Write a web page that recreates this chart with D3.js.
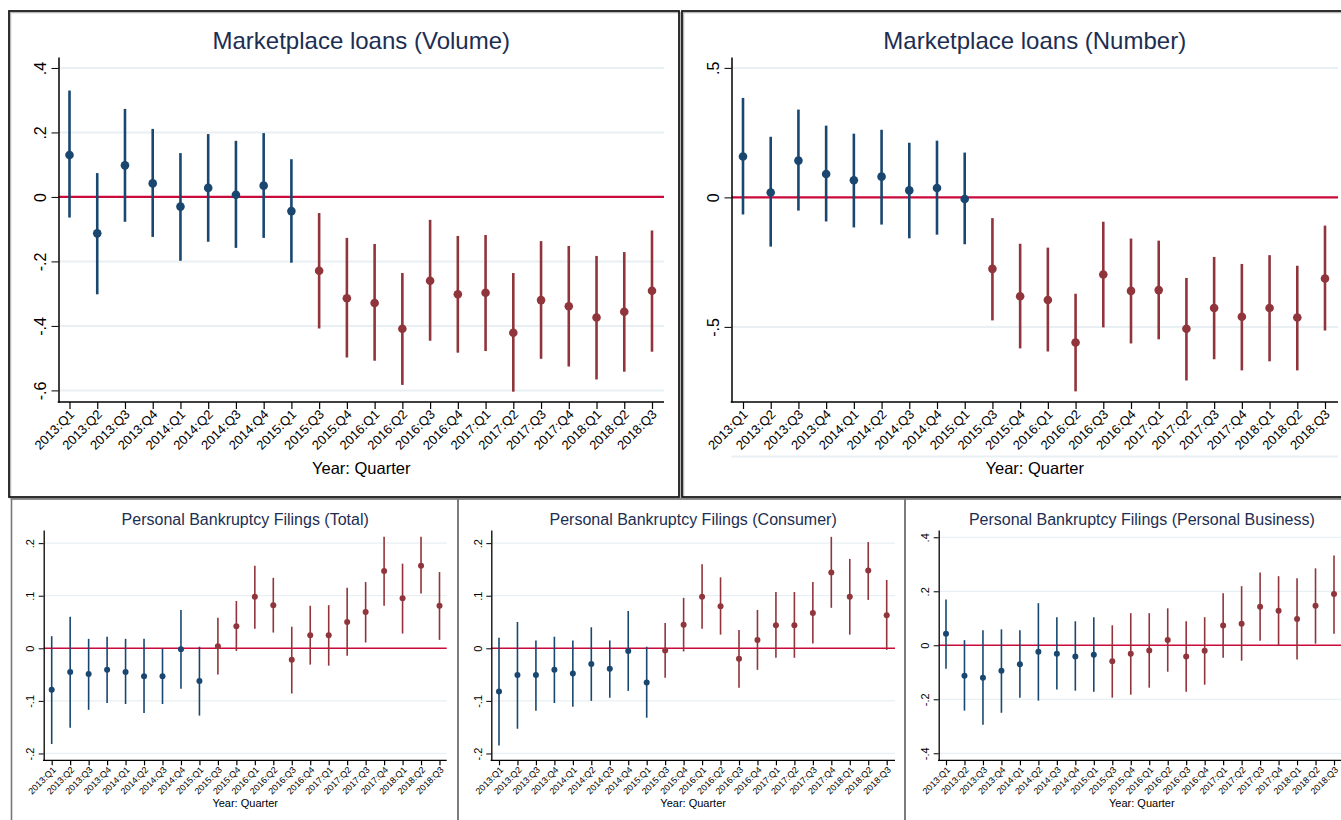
<!DOCTYPE html>
<html>
<head>
<meta charset="utf-8">
<script src="https://cdn.jsdelivr.net/npm/d3@7"></script>
<style>
  body { margin: 0; background: #fff; }
  svg { display: block; font-family: "Liberation Sans", Arial, sans-serif; }
</style>
</head>
<body>
<div id="chart"></div>
<script>
// Quarters (2015:Q2 is the omitted base period)
const quarters = ['2013:Q1', '2013:Q2', '2013:Q3', '2013:Q4', '2014:Q1', '2014:Q2', '2014:Q3', '2014:Q4',
  '2015:Q1', '2015:Q3', '2015:Q4', '2016:Q1', '2016:Q2', '2016:Q3', '2016:Q4',
  '2017:Q1', '2017:Q2', '2017:Q3', '2017:Q4', '2018:Q1', '2018:Q2', '2018:Q3'];
const firstPost = '2015:Q3';

// Marketplace loans (Volume)
const volEst = [0.130, -0.113, 0.098, 0.042, -0.030, 0.028, 0.007, 0.035, -0.044, -0.229, -0.314, -0.329, -0.409, -0.260, -0.302, -0.297, -0.421, -0.320, -0.339, -0.374, -0.356, -0.291];
const volLo = [-0.064, -0.302, -0.077, -0.124, -0.198, -0.139, -0.158, -0.127, -0.204, -0.408, -0.498, -0.508, -0.583, -0.446, -0.483, -0.478, -0.604, -0.502, -0.526, -0.566, -0.542, -0.480];
const volHi = [0.330, 0.074, 0.273, 0.211, 0.136, 0.195, 0.174, 0.198, 0.117, -0.050, -0.127, -0.146, -0.236, -0.071, -0.121, -0.118, -0.236, -0.137, -0.152, -0.183, -0.171, -0.104];
const volTicks = [-0.6, -0.4, -0.2, 0, 0.2, 0.4];

// Marketplace loans (Number)
const numEst = [0.158, 0.019, 0.142, 0.090, 0.066, 0.080, 0.027, 0.036, -0.006, -0.276, -0.382, -0.396, -0.560, -0.298, -0.361, -0.358, -0.507, -0.427, -0.461, -0.427, -0.464, -0.313];
const numLo = [-0.066, -0.190, -0.051, -0.093, -0.116, -0.105, -0.158, -0.144, -0.181, -0.475, -0.583, -0.595, -0.749, -0.502, -0.564, -0.548, -0.707, -0.625, -0.668, -0.633, -0.668, -0.514];
const numHi = [0.384, 0.234, 0.339, 0.277, 0.246, 0.261, 0.211, 0.219, 0.173, -0.080, -0.179, -0.194, -0.372, -0.094, -0.159, -0.167, -0.311, -0.230, -0.257, -0.223, -0.264, -0.109];
const numTicks = [-0.5, 0, 0.5];

// Personal Bankruptcy Filings (Total)
const totEst = [-0.079, -0.045, -0.049, -0.041, -0.045, -0.053, -0.053, -0.002, -0.062, 0.004, 0.042, 0.098, 0.082, -0.022, 0.025, 0.025, 0.050, 0.069, 0.147, 0.095, 0.157, 0.081];
const totLo = [-0.182, -0.151, -0.117, -0.104, -0.106, -0.123, -0.106, -0.077, -0.128, -0.050, -0.005, 0.037, 0.030, -0.086, -0.031, -0.033, -0.014, 0.011, 0.081, 0.028, 0.104, 0.016];
const totHi = [0.023, 0.060, 0.018, 0.022, 0.018, 0.018, -0.001, 0.073, 0.003, 0.058, 0.090, 0.157, 0.134, 0.041, 0.081, 0.082, 0.115, 0.126, 0.212, 0.161, 0.212, 0.145];
const totTicks = [-0.2, -0.1, 0, 0.1, 0.2];

// Personal Bankruptcy Filings (Consumer)
const conEst = [-0.082, -0.051, -0.051, -0.041, -0.048, -0.030, -0.039, -0.005, -0.065, -0.004, 0.045, 0.098, 0.080, -0.020, 0.016, 0.044, 0.044, 0.067, 0.144, 0.098, 0.148, 0.063];
const conLo = [-0.185, -0.153, -0.119, -0.104, -0.111, -0.100, -0.094, -0.081, -0.132, -0.056, -0.006, 0.037, 0.026, -0.075, -0.041, -0.018, -0.018, 0.009, 0.077, 0.026, 0.092, -0.003];
const conHi = [0.020, 0.050, 0.015, 0.022, 0.015, 0.040, 0.015, 0.071, 0.003, 0.048, 0.096, 0.160, 0.135, 0.035, 0.073, 0.107, 0.107, 0.126, 0.212, 0.170, 0.202, 0.130];
const conTicks = [-0.2, -0.1, 0, 0.1, 0.2];

// Personal Bankruptcy Filings (Personal Business)
const busEst = [0.043, -0.113, -0.120, -0.094, -0.070, -0.024, -0.031, -0.042, -0.035, -0.059, -0.031, -0.019, 0.020, -0.042, -0.020, 0.073, 0.080, 0.143, 0.128, 0.097, 0.146, 0.190];
const busLo = [-0.087, -0.242, -0.294, -0.250, -0.194, -0.205, -0.164, -0.168, -0.172, -0.194, -0.183, -0.157, -0.098, -0.172, -0.146, -0.046, -0.057, 0.017, 0.000, -0.053, 0.006, 0.043];
const busHi = [0.170, 0.019, 0.056, 0.059, 0.056, 0.156, 0.104, 0.089, 0.104, 0.074, 0.119, 0.119, 0.137, 0.089, 0.104, 0.193, 0.219, 0.270, 0.256, 0.248, 0.285, 0.333];
const busTicks = [-0.4, -0.2, 0, 0.2, 0.4];

const blue = '#1a476f';
const red = '#90353b';
const zeroColor = '#c90a3a';
const gridColor = '#e8f0f3';
const titleColor = '#1c2e52';

// Stata-like tick labels: .4, -.2, 0
const fmt = d => d === 0 ? '0' : (d < 0 ? '-' : '') + String(Math.abs(d)).replace(/^0\./, '.');

const big = { titleSize: 24, xlabSize: 16.5, yTickSize: 16, xTickSize: 13, tick: 7, yPad: 6, dotR: 4.3, barW: 2.6, gridW: 2, zeroW: 2.2, axisW: 1.5 };
const small = { titleSize: 16, xlabSize: 11, yTickSize: 11, xTickSize: 9, tick: 5, yPad: 4.5, dotR: 3, barW: 1.6, gridW: 1.3, zeroW: 1.4, axisW: 1.3 };

const panels = [
  { title: 'Marketplace loans (Volume)', est: volEst, lo: volLo, hi: volHi, ticks: volTicks, domain: [-0.636, 0.434],
    frame: [9, 11, 670, 486], dark: true, left: 58.5, right: 664, top: 57, bottom: 402, xr: [69.5, 652], titleY: 49, xlabY: 474, ...big },
  { title: 'Marketplace loans (Number)', est: numEst, lo: numLo, hi: numHi, ticks: numTicks, domain: [-0.790, 0.542],
    frame: [682, 11, 680, 486], dark: true, left: 731.5, right: 1338, top: 57, bottom: 402, xr: [743, 1325], titleY: 49, xlabY: 474, under: 456.5, ...big },
  { title: 'Personal Bankruptcy Filings (Total)', est: totEst, lo: totLo, hi: totHi, ticks: totTicks, domain: [-0.213, 0.225],
    frame: [11.5, 499, 446.5, 340], left: 43.7, right: 446.7, top: 530, bottom: 760.3, xr: [51.7, 439.5], titleY: 525, xlabY: 807, ...small },
  { title: 'Personal Bankruptcy Filings (Consumer)', est: conEst, lo: conLo, hi: conHi, ticks: conTicks, domain: [-0.213, 0.225],
    frame: [458, 499, 447, 340], left: 491.3, right: 895, top: 530, bottom: 760.3, xr: [499, 886.7], titleY: 525, xlabY: 807, ...small },
  { title: 'Personal Bankruptcy Filings (Personal Business)', est: busEst, lo: busLo, hi: busHi, ticks: busTicks, domain: [-0.426, 0.427],
    frame: [905, 499, 450, 340], left: 938.7, right: 1345, top: 530, bottom: 760.3, xr: [946, 1334], titleY: 525, xlabY: 807, ...small }
];

const svg = d3.select('#chart')
  .append('svg')
  .attr('width', 1341)
  .attr('height', 820);

svg.append('rect').attr('width', 1341).attr('height', 820).attr('fill', '#fff');

function drawPanel(p) {
  const g = svg.append('g');
  const y = d3.scaleLinear().domain(p.domain).range([p.bottom, p.top]);
  const x = d3.scalePoint().domain(quarters).range(p.xr);
  const postIdx = quarters.indexOf(firstPost);
  const rows = quarters.map((q, i) => ({ q, est: p.est[i], lo: p.lo[i], hi: p.hi[i], color: i < postIdx ? blue : red }));

  // Frame around the graph
  const [fx, fy, fw, fh] = p.frame;
  if (p.dark) {
    g.append('rect').attr('x', fx + 1.5).attr('y', fy + 1.5).attr('width', fw).attr('height', fh)
      .attr('fill', 'none').attr('stroke', '#b8b8b8').attr('stroke-width', 1.5);
    g.append('rect').attr('x', fx).attr('y', fy).attr('width', fw).attr('height', fh)
      .attr('fill', 'none').attr('stroke', '#1a1a1a').attr('stroke-width', 1.8);
  } else {
    g.append('rect').attr('x', fx).attr('y', fy).attr('width', fw).attr('height', fh)
      .attr('fill', 'none').attr('stroke', '#777').attr('stroke-width', 1.6);
  }

  // Gridlines
  g.append('g').selectAll('line').data(p.ticks.filter(d => d !== 0)).join('line')
    .attr('x1', p.left).attr('x2', p.right)
    .attr('y1', d => y(d)).attr('y2', d => y(d))
    .attr('stroke', gridColor).attr('stroke-width', p.gridW);

  // Zero reference line
  g.append('line')
    .attr('x1', p.left).attr('x2', p.right)
    .attr('y1', y(0)).attr('y2', y(0))
    .attr('stroke', zeroColor).attr('stroke-width', p.zeroW);

  // Faint line under the tick labels (only in one graph)
  if (p.under) {
    g.append('line').attr('x1', p.left).attr('x2', p.right).attr('y1', p.under).attr('y2', p.under)
      .attr('stroke', gridColor).attr('stroke-width', p.gridW);
  }

  // Y axis
  const yAxis = d3.axisLeft(y).tickValues(p.ticks).tickSize(p.tick).tickSizeOuter(0).tickFormat(fmt);
  const ya = g.append('g').attr('transform', `translate(${p.left},0)`).call(yAxis);
  ya.select('.domain').attr('stroke', '#000').attr('stroke-width', p.axisW);
  ya.selectAll('.tick line').attr('stroke', '#000').attr('stroke-width', 1);
  ya.selectAll('.tick text')
    .attr('x', null).attr('dy', null)
    .attr('transform', `translate(${-(p.tick + p.yPad)},0) rotate(-90)`)
    .attr('text-anchor', 'middle')
    .attr('fill', '#000')
    .style('font-size', p.yTickSize + 'px')
    .style('font-family', '"Liberation Sans", Arial, sans-serif');

  // X axis
  const xAxis = d3.axisBottom(x).tickSize(p.tick).tickSizeOuter(0);
  const xa = g.append('g').attr('transform', `translate(0,${p.bottom})`).call(xAxis);
  xa.select('.domain').remove();
  xa.selectAll('.tick line').attr('stroke', '#000').attr('stroke-width', 1.2);
  xa.selectAll('.tick text')
    .attr('y', null).attr('dy', '0.35em')
    .attr('transform', `translate(2,${p.tick + 3}) rotate(-45)`)
    .attr('text-anchor', 'end')
    .attr('fill', '#000')
    .style('font-size', p.xTickSize + 'px')
    .style('font-family', '"Liberation Sans", Arial, sans-serif');
  g.append('line').attr('x1', p.left - p.axisW / 2).attr('x2', p.right)
    .attr('y1', p.bottom).attr('y2', p.bottom)
    .attr('stroke', '#000').attr('stroke-width', p.axisW);

  // Confidence intervals
  g.append('g').selectAll('line').data(rows).join('line')
    .attr('x1', d => x(d.q)).attr('x2', d => x(d.q))
    .attr('y1', d => y(d.lo)).attr('y2', d => y(d.hi))
    .attr('stroke', d => d.color).attr('stroke-width', p.barW);

  // Point estimates
  g.append('g').selectAll('circle').data(rows).join('circle')
    .attr('cx', d => x(d.q)).attr('cy', d => y(d.est))
    .attr('r', p.dotR).attr('fill', d => d.color);

  // Titles
  const cx = (p.left + p.right) / 2;
  g.append('text')
    .attr('x', cx).attr('y', p.titleY)
    .attr('text-anchor', 'middle')
    .attr('fill', titleColor)
    .style('font-size', p.titleSize + 'px')
    .text(p.title);

  g.append('text')
    .attr('x', cx).attr('y', p.xlabY)
    .attr('text-anchor', 'middle')
    .attr('fill', '#000')
    .style('font-size', p.xlabSize + 'px')
    .text('Year: Quarter');
}

panels.forEach(drawPanel);
</script>
</body>
</html>
